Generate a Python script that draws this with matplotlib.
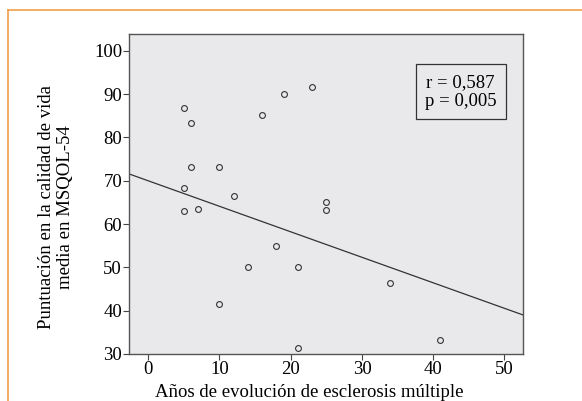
import matplotlib.pyplot as plt
from matplotlib.lines import Line2D
import numpy as np

plt.rcParams['font.family'] = ['Liberation Serif', 'DejaVu Serif']

# years since onset vs MSQOL-54 score
years = [5, 6, 6, 10, 5, 5, 7, 12, 16, 19, 23, 25, 25, 18, 14, 21, 10, 21, 34, 41]
score = [86.7, 83.4, 73.3, 73.3, 68.3, 63.1, 63.4, 66.6, 85.1, 90.1,
         91.7, 65.0, 63.3, 55.0, 50.0, 50.0, 41.6, 31.5, 46.5, 33.2]

# fitted line as printed in the figure
fit_intercept = 70.0
fit_slope = -0.589

xticks = [0, 10, 20, 30, 40, 50]
yticks = [30, 40, 50, 60, 70, 80, 90, 100]

W, H = 582, 401
fig = plt.figure(figsize=(W / 100, H / 100), dpi=100)
ax = fig.add_axes([129 / W, 1 - 354 / H, (523 - 129) / W, (354 - 34) / H])
ax.set_facecolor('#e9e9eb')

xlim = (-2.7, 52.6)
ax.set_xlim(*xlim)
ax.set_ylim(30, 103.9)

xl = np.array(xlim)
ax.plot(xl, fit_intercept + fit_slope * xl, color='#333333', lw=0.9)
ax.plot(years, score, 'o', mfc='none', mec='#333333', ms=4.2, mew=0.8)

ax.set_xticks(xticks)
ax.set_yticks(yticks)
ax.tick_params(direction='out', length=4, width=0.8, color='#444444',
               labelsize=13.5, pad=1)
for s in ax.spines.values():
    s.set_color('#555555')
    s.set_linewidth(1.0)

ax.set_xlabel('Años de evolución de esclerosis múltiple', fontsize=13.5)
ax.xaxis.set_label_coords(0.457, -0.095)
ax.set_ylabel('Puntuación en la calidad de vida\nmedia en MSQOL-54', fontsize=13.5,
              linespacing=1.15)
ax.yaxis.set_label_coords(-0.14, 0.46)

ax.text(0.842, 0.82, 'r = 0,587\np = 0,005', transform=ax.transAxes,
        ha='center', va='center', fontsize=13.5, linespacing=1.15,
        bbox=dict(boxstyle='square,pad=0.5', fc='none', ec='#333333', lw=0.9))

# orange page frame
fig.add_artist(Line2D([8 / W, 8 / W], [0, 1 - 10 / H], color='#f0a04a', lw=1.2))
fig.add_artist(Line2D([8 / W, 1], [1 - 10 / H, 1 - 10 / H], color='#f0a04a', lw=1.2))

fig.savefig('out.png', dpi=100)
